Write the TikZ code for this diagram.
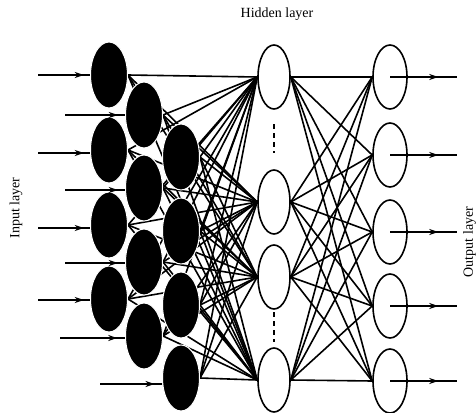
\documentclass[tikz,border=0pt]{standalone}
\usepackage{fontspec}
\setmainfont{Liberation Serif}
\usetikzlibrary{shapes.geometric,arrows.meta,decorations.markings,backgrounds}
\begin{document}
\begin{tikzpicture}[x=1pt,y=-1pt,
 inb/.style={ellipse, fill=black, draw=white, line width=1pt, minimum width=37pt, minimum height=66pt, inner sep=0pt},
 hid/.style={ellipse, fill=white, draw=black, line width=1.6pt, minimum width=32pt, minimum height=64pt, inner sep=0pt},
 outn/.style={ellipse, fill=white, draw=black, line width=1.6pt, minimum width=34pt, minimum height=64pt, inner sep=0pt},
 conn/.style={line width=1.6pt},
 inarr/.style={line width=1.8pt, postaction={decorate}, decoration={markings, mark=at position 0.88 with {\arrow{Stealth[length=9pt,width=6pt]}}}},
 outarr/.style={line width=1.8pt, postaction={decorate}, decoration={markings, mark=at position 0.72 with {\arrow{Stealth[length=9pt,width=6pt]}}}},
 dots/.style={line width=2pt, dash pattern=on 5pt off 4pt},
 lbl/.style={font=\fontsize{14}{16}\selectfont, inner sep=0pt}
]
\useasboundingbox (0,0) rectangle (476,412);
% input layer
\node[inb] (i1) at (109,75) {};
\node[inb] (i2) at (109,150) {};
\node[inb] (i3) at (109,225) {};
\node[inb] (i4) at (109,299) {};
\node[inb] (i5) at (144,115) {};
\node[inb] (i6) at (144,188) {};
\node[inb] (i7) at (144,262) {};
\node[inb] (i8) at (144,336) {};
\node[inb] (i9) at (181,157) {};
\node[inb] (i10) at (181,231) {};
\node[inb] (i11) at (181,305) {};
\node[inb] (i12) at (181,378) {};
% hidden layer
\node[hid] (h1) at (274,77) {};
\node[hid] (h2) at (274,202) {};
\node[hid] (h3) at (274,277) {};
\node[hid] (h4) at (274,380) {};
% output layer
\node[outn] (o1) at (390,77) {};
\node[outn] (o2) at (390,155) {};
\node[outn] (o3) at (390,232) {};
\node[outn] (o4) at (390,306) {};
\node[outn] (o5) at (390,381) {};
% connections
\begin{scope}[on background layer]
\foreach \i in {1,...,12} {
  \foreach \h in {1,...,4} {
    \draw[conn] (i\i.east) -- (h\h.west);
  }
}
\foreach \h in {1,...,4} {
  \foreach \o in {1,...,5} {
    \draw[conn] (h\h.east) -- (o\o.west);
  }
}
\end{scope}
% dotted in hidden
\coordinate (d1a) at (274,124);
\coordinate (d1b) at (274,153);
\coordinate (d2a) at (274,312);
\coordinate (d2b) at (274,342);
\draw[dots] (d1a) -- (d1b);
\draw[dots] (d2a) -- (d2b);
% input arrows
\coordinate (a1) at (38,75);
\coordinate (a2) at (38,153);
\coordinate (a3) at (38,228);
\coordinate (a4) at (38,300);
\coordinate (a5) at (65,115);
\coordinate (a6) at (65,190);
\coordinate (a7) at (65,263);
\coordinate (a8) at (60,338);
\coordinate (a12) at (100,384);
\foreach \k in {1,...,8} {
  \draw[inarr] (a\k) -- (i\k.west |- a\k);
}
\draw[inarr] (a12) -- (i12.west |- a12);
% output arrows
\foreach \k in {1,...,5} {
  \coordinate (e\k) at (457,0 |- o\k.center);
  \draw[outarr] (o\k.center) -- (e\k);
}
% labels
\node[lbl] (th) at (277,14) {Hidden layer};
\node[lbl, rotate=90] (ti) at (16,208) {Input layer};
\node[lbl, rotate=90, anchor=south] (to) at (476,242) {Output layer};
\end{tikzpicture}
\end{document}
